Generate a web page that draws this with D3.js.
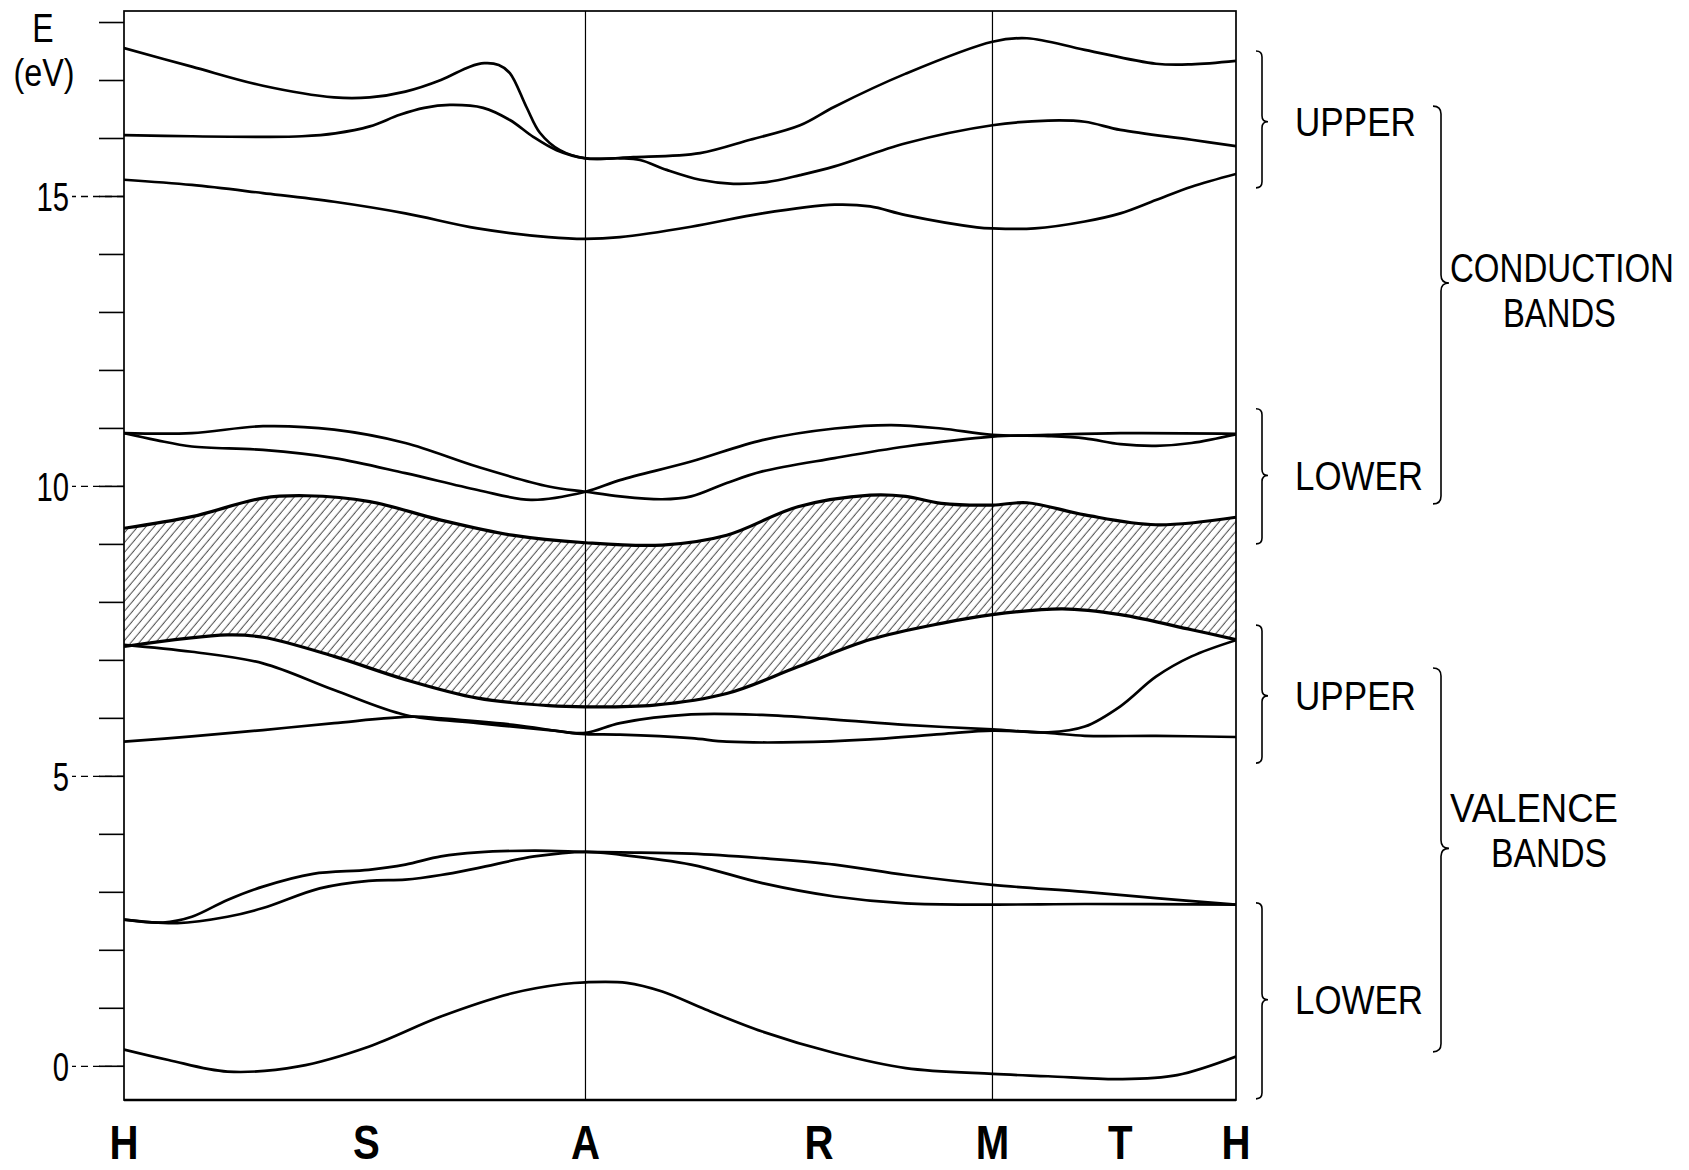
<!DOCTYPE html>
<html><head><meta charset="utf-8">
<script src="https://cdn.jsdelivr.net/npm/d3@7"></script>
<style>html,body{margin:0;padding:0;background:#fff;} svg{display:block;}</style>
</head><body>
<svg id="chart" width="1689" height="1170"></svg>
<script>
// ---- Data: path coordinate q (0..100 along H-A-M-H), energy E (eV) ----
const kLabels = ["H","S","A","R","M","T","H"];
const kLabelPos = [0, 21.8, 41.5, 62.5, 78.1, 89.6, 100];
const kLines = [41.5, 78.1];
const yTickValues = [0,1,2,3,4,5,6,7,8,9,10,11,12,13,14,15,16,17,18];
const yTickLabels = [0,5,10,15];

const condUpper1 = [[0,17.55],[6.1,17.23],[12.5,16.90],[18.9,16.70],[22.1,16.70],[25.3,16.80],[28.5,17.00],[31.1,17.23],[32.4,17.29],[33.7,17.26],[34.7,17.12],[36.2,16.53],[37.4,16.09],[39.2,15.79],[41.5,15.65],[45.8,15.67],[51.8,15.74],[56.3,15.97],[60.8,16.22],[63.9,16.54],[70.3,17.11],[78.1,17.66],[81.2,17.72],[86.4,17.52],[92.8,17.28],[96,17.27],[100,17.33]];
const condUpper2 = [[0,16.05],[6.1,16.03],[12.5,16.02],[16,16.03],[19,16.08],[22.1,16.20],[24.8,16.40],[27,16.52],[29.3,16.57],[32.3,16.52],[34.7,16.31],[36.8,16.02],[38.9,15.79],[41.5,15.65],[44.6,15.65],[46.4,15.62],[48.8,15.45],[51.8,15.28],[54.8,15.21],[57.8,15.24],[60.8,15.36],[63.9,15.51],[70.3,15.91],[78.1,16.22],[83.1,16.30],[86.4,16.28],[89.6,16.14],[96,15.97],[100,15.86]];
const condUpper3 = [[0,15.28],[6.1,15.19],[12.5,15.05],[18.9,14.90],[25.3,14.70],[31.8,14.44],[38.2,14.29],[41.5,14.26],[44.6,14.29],[51,14.47],[57.4,14.70],[63.9,14.85],[67.1,14.82],[70.3,14.67],[76.7,14.46],[78.1,14.44],[81.9,14.44],[86.4,14.56],[89.6,14.70],[92.8,14.93],[96,15.16],[100,15.38]];
const condLower1 = [[0,10.91],[6.1,10.91],[12.5,11.03],[18.9,10.97],[25.3,10.74],[31.8,10.33],[38.2,9.99],[41.5,9.90],[44.6,9.82],[48.4,9.77],[51,9.82],[54.2,10.05],[57.4,10.25],[63.9,10.48],[70.3,10.68],[78.1,10.85],[83.1,10.88],[89.6,10.91],[100,10.90]];
const condLower2 = [[0,10.91],[2.9,10.79],[6.1,10.68],[12.5,10.62],[18.9,10.48],[25.3,10.22],[31.8,9.93],[36.6,9.76],[41.5,9.90],[44.6,10.10],[51,10.42],[57.4,10.79],[63.9,10.99],[69,11.05],[73.5,10.99],[78.1,10.88],[83.1,10.86],[86.4,10.82],[89.6,10.72],[92.8,10.69],[96,10.74],[100,10.89]];
const gapTop = [[0,9.27],[6.1,9.47],[12.5,9.79],[16.4,9.83],[22.1,9.73],[28.5,9.41],[34.9,9.15],[41.5,9.02],[48.4,8.98],[54.2,9.15],[60.6,9.64],[67.1,9.84],[70.3,9.82],[73.5,9.70],[78.1,9.67],[81.2,9.71],[86.4,9.50],[92.8,9.33],[100,9.46]];
const gapBottom = [[0,7.23],[9.3,7.43],[12.5,7.39],[18.9,7.06],[25.3,6.66],[31.8,6.34],[38.2,6.21],[41.5,6.19],[47.7,6.22],[54.2,6.42],[60.6,6.88],[67.1,7.35],[73.5,7.63],[78.1,7.78],[84.4,7.88],[89.6,7.78],[96,7.52],[100,7.35]];
const valUpper1 = [[0,7.26],[6.1,7.14],[12.5,6.94],[18.9,6.48],[25.3,6.05],[31.8,5.91],[38.2,5.79],[41.5,5.74],[44.6,5.91],[51,6.06],[57.4,6.05],[63.9,5.97],[70.3,5.88],[78.1,5.80],[83.1,5.75],[86.4,5.85],[89.6,6.20],[92.8,6.71],[96,7.06],[100,7.34]];
const valUpper2 = [[0,5.59],[6.1,5.68],[12.5,5.79],[18.9,5.91],[26,6.02],[28.5,5.99],[35,5.88],[39.5,5.76],[41.5,5.72],[44.6,5.71],[51,5.65],[54.2,5.59],[60.6,5.58],[67.1,5.63],[73.5,5.72],[78.1,5.78],[83.1,5.74],[86.4,5.69],[92.8,5.69],[100,5.67]];
const valLower1 = [[0,2.52],[3.5,2.47],[6.1,2.57],[9.3,2.86],[12.5,3.09],[17,3.31],[22,3.38],[25.3,3.47],[28.5,3.61],[31.8,3.68],[36.9,3.71],[41.5,3.69],[44.6,3.68],[51,3.66],[57.4,3.58],[63.9,3.47],[70.3,3.29],[78.1,3.12],[86.4,3.00],[92.8,2.89],[100,2.78]];
const valLower2 = [[0,2.52],[4.8,2.46],[9.3,2.57],[12.5,2.72],[17.6,3.06],[22,3.19],[25.3,3.21],[28.5,3.29],[31.8,3.41],[36.9,3.61],[41.5,3.69],[44.6,3.64],[51,3.47],[57.4,3.15],[63.9,2.92],[70.3,2.80],[78.1,2.78],[86.4,2.79],[100,2.78]];
const valLower3 = [[0,0.28],[4,0.10],[9.3,-0.10],[15.7,-0.01],[22,0.33],[28.5,0.85],[34.9,1.25],[39.5,1.41],[41.5,1.44],[45.2,1.43],[48.4,1.28],[52.3,0.97],[57.4,0.59],[63.9,0.22],[70.3,-0.04],[78.1,-0.14],[83.1,-0.18],[89.6,-0.23],[94.7,-0.16],[100,0.16]];

// Energy ranges of the bracketed groups
const groupLabels = ["UPPER","LOWER","UPPER","LOWER"];
const groupRanges = [[15.14,17.50],[9.00,11.33],[5.22,7.60],[-0.57,2.81]];
const groupTips = [16.28,10.18,6.38,1.14];
const familyLabels = [["CONDUCTION","BANDS"],["VALENCE","BANDS"]];
const familyRanges = [[9.69,16.55],[0.24,6.86]];
const familyTips = [13.5,3.75];
const familyTextE = [13.38,4.07];

// ---- Drawing ----
const svg = d3.select("#chart");
const FONT = "'Liberation Sans', Arial, sans-serif";
const x = d3.scaleLinear().domain([0,100]).range([124,1236]);
const y = d3.scaleLinear().domain([-0.59,18.19]).range([1100,11]);

function squeeze(sel, k){
  sel.each(function(){
    const w = this.getComputedTextLength();
    d3.select(this).attr("textLength", w*k).attr("lengthAdjust","spacingAndGlyphs");
  });
}
// place a text at (px, py) (start-anchored) horizontally scaled to a target width
function placeFit(txt, px, py, targetW){
  const w = txt.node().getComputedTextLength();
  txt.attr("x",0).attr("y",0).attr("transform",`translate(${px},${py}) scale(${targetW/w},1)`);
}

const defs = svg.append("defs");
const pat = defs.append("pattern").attr("id","hatch")
  .attr("patternUnits","userSpaceOnUse").attr("width",6.3).attr("height",20)
  .attr("patternTransform","rotate(40)");
pat.append("line").attr("x1",3).attr("y1",0).attr("x2",3).attr("y2",20)
  .attr("stroke","#2a2a2a").attr("stroke-width",0.9);
defs.append("clipPath").attr("id","plotclip").append("rect")
  .attr("x",x(0)).attr("y",y(18.19)).attr("width",x(100)-x(0)).attr("height",y(-0.59)-y(18.19));

const line = d3.line().x(d=>x(d[0])).y(d=>y(d[1])).curve(d3.curveCatmullRom.alpha(0.5));

const plot = svg.append("g").attr("clip-path","url(#plotclip)");

// hatched gap region
const areaD = line(gapTop) + "L" + line(gapBottom.slice().reverse()).slice(1) + "Z";
plot.append("path").attr("d",areaD).attr("fill","url(#hatch)").attr("stroke","none");

// bands
const bands = [condUpper1,condUpper2,condUpper3,condLower1,condLower2,valUpper1,valUpper2,valLower1,valLower2,valLower3];
plot.selectAll("path.band").data(bands).enter().append("path").attr("class","band")
  .attr("d",line).attr("fill","none").attr("stroke","#000").attr("stroke-width",2.7)
  .attr("stroke-linejoin","round").attr("stroke-linecap","round");
plot.selectAll("path.gapedge").data([gapTop,gapBottom]).enter().append("path").attr("class","gapedge")
  .attr("d",line).attr("fill","none").attr("stroke","#000").attr("stroke-width",3.2);

// symmetry vertical lines
svg.selectAll("line.kline").data(kLines).enter().append("line").attr("class","kline")
  .attr("x1",d=>x(d)).attr("x2",d=>x(d)).attr("y1",y(18.19)).attr("y2",y(-0.59))
  .attr("stroke","#000").attr("stroke-width",1.2);

// frame
svg.append("rect").attr("x",x(0)).attr("y",y(18.19)).attr("width",x(100)-x(0)).attr("height",y(-0.59)-y(18.19))
  .attr("fill","none").attr("stroke","#000").attr("stroke-width",1.7);
svg.append("line").attr("x1",x(0)).attr("x2",x(100)).attr("y1",y(-0.59)).attr("y2",y(-0.59))
  .attr("stroke","#000").attr("stroke-width",2.6);

// y axis: minor ticks
const axMinor = d3.axisLeft(y).tickValues(yTickValues).tickSize(25).tickFormat("");
const gMinor = svg.append("g").attr("transform",`translate(${x(0)},0)`).call(axMinor);
gMinor.select(".domain").remove();
gMinor.selectAll(".tick line").attr("stroke","#000").attr("stroke-width",1.6);

// y axis: major ticks with labels
const axMajor = d3.axisLeft(y).tickValues(yTickLabels).tickSize(52).tickPadding(3).tickFormat(d3.format("d"));
const gMajor = svg.append("g").attr("transform",`translate(${x(0)},0)`).call(axMajor);
gMajor.select(".domain").remove();
gMajor.selectAll(".tick line").attr("stroke","#000").attr("stroke-width",1.3).attr("stroke-dasharray","7,5");
gMajor.selectAll(".tick text").attr("font-family",FONT).attr("font-size",40).attr("fill","#000").attr("dy","0.36em");
squeeze(gMajor.selectAll(".tick text"),0.73);

// axis title
const tE = svg.append("text").attr("x",43).attr("y",42).attr("text-anchor","middle")
  .attr("font-family",FONT).attr("font-size",40).text("E");
squeeze(tE,0.8);
const tU = svg.append("text").attr("x",44).attr("y",86).attr("text-anchor","middle")
  .attr("font-family",FONT).attr("font-size",38).text("(eV)");
squeeze(tU,0.85);

// x labels
const xl = svg.selectAll("text.klab").data(kLabels).enter().append("text").attr("class","klab")
  .attr("x",(d,i)=>x(kLabelPos[i])).attr("y",1159).attr("text-anchor","middle")
  .attr("font-family",FONT).attr("font-weight","bold").attr("font-size",49).text(d=>d);
squeeze(xl,0.82);

// braces
function braceV(xc, y0, y1, ym, dir, r){
  const c = r, s = dir;
  return `M${xc - s*c},${y0} Q${xc},${y0} ${xc},${y0+c} L${xc},${ym-c} Q${xc},${ym} ${xc+s*c},${ym}`
       + ` Q${xc},${ym} ${xc},${ym+c} L${xc},${y1-c} Q${xc},${y1} ${xc - s*c},${y1}`;
}
const gb = svg.append("g").attr("fill","none").attr("stroke","#000").attr("stroke-width",1.6);
groupRanges.forEach((r,i)=>{
  gb.append("path").attr("d",braceV(1262, y(r[1]), y(r[0]), y(groupTips[i]), 1, 6));
});
familyRanges.forEach((r,i)=>{
  gb.append("path").attr("d",braceV(1441, y(r[1]), y(r[0]), y(familyTips[i]), 1, 8));
});

// group labels
groupLabels.forEach((t,i)=>{
  const el = svg.append("text").attr("font-family",FONT).attr("font-size",40).text(t);
  placeFit(el, 1295, y(groupTips[i])+14.5, t==="UPPER"?121:128);
});

const famX = [[1450,1503],[1450,1491]];
const famW = [[224,113],[168,116]];
familyLabels.forEach((pair,i)=>{
  pair.forEach((t,j)=>{
    const el = svg.append("text").attr("font-family",FONT).attr("font-size",40).text(t);
    placeFit(el, famX[i][j], y(familyTextE[i]) + (j===0?-8:37), famW[i][j]);
  });
});
</script>
</body></html>
